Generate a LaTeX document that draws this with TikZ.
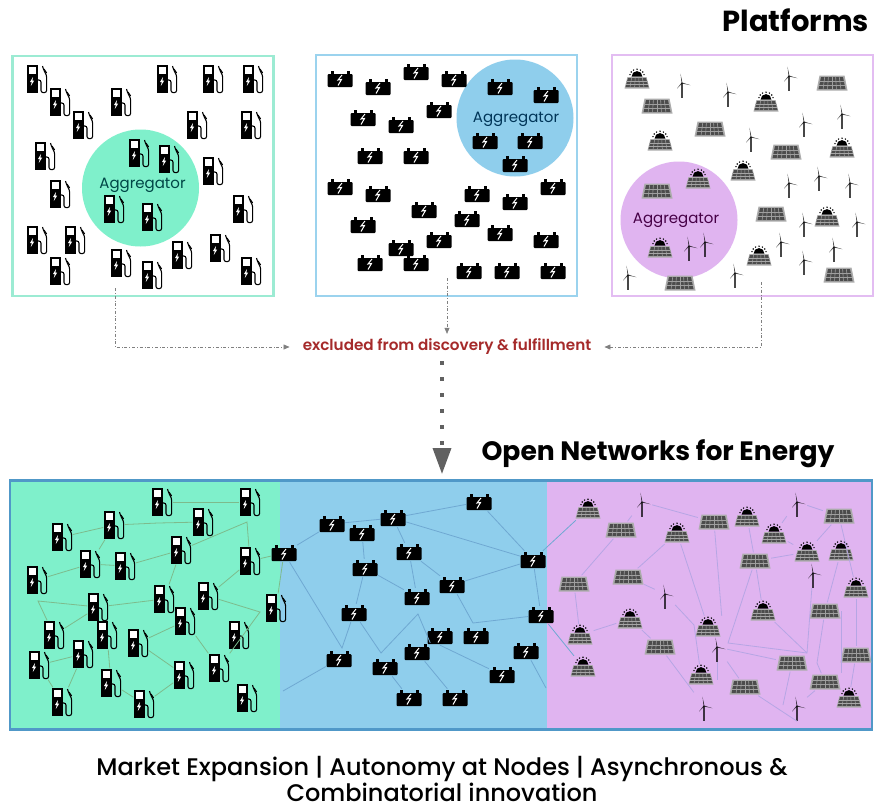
\documentclass[tikz,border=0pt]{standalone}
\usepackage{fontspec}
\usepackage{xcolor}
\setmainfont{Poppins}
\newfontfamily\mediumfont{Poppins Medium}
\newfontfamily\semifont{Poppins SemiBold}
\usetikzlibrary{arrows.meta}
\definecolor{mint}{HTML}{7FF0CB}
\definecolor{sky}{HTML}{8FCEEC}
\definecolor{lilac}{HTML}{E0B4F0}
\definecolor{mintline}{HTML}{9CEBD3}
\definecolor{skyline}{HTML}{9BD3EE}
\definecolor{lilacline}{HTML}{E3BDF2}
\definecolor{netline}{HTML}{5098C8}
\definecolor{redtext}{HTML}{A52A2A}
\definecolor{pumpwire}{HTML}{7DBB8C}
\definecolor{batterywire}{HTML}{6FA8D2}
\definecolor{solwire}{HTML}{B6A6E4}
\tikzset{
    pump/.pic={
        \fill[black] (-10,-14) rectangle (1,14);
        \fill[white] (-8.3,-12.4) rectangle (-.7,-5);
        \fill[white] (-4,-2) -- (-7,3) -- (-5.2,3) -- (-6.2,7) -- (-2.8,1.6) -- (-4.6,1.6) -- cycle;
        \draw[black, line width=1.1pt, rounded corners=2.2pt] (1,1) -- (4,1) -- (4,13.6) -- (9.6,13.6) -- (9.6,-4) -- (7,-8) -- (5.5,-13);
        \draw[black, line width=1.1pt] (7,-10) -- (9.6,-6);
    },
    battery/.pic={
        \fill[black, rounded corners=1pt] (-12.5,-5) rectangle (12.5,8);
        \fill[black] (-9.5,-8) rectangle (-6.5,-4);
        \fill[black] (6.5,-8) rectangle (9.5,-4);
        \draw[white, line width=1pt] (2,-4) -- (-2,1) -- (1.5,.5) -- (-2,6.5);
    },
    panelcells/.pic={
        \fill[black!70] (-9,-1) -- (9,-1) -- (11.5,8) -- (-11.5,8) -- cycle;
        \foreach \u in {-.6,-.2,.2,.6}
            \draw[gray!70, line width=.5pt] (\u*9,-1) -- (\u*11.5,8);
        \foreach \v in {2,5}
            \draw[gray!70, line width=.5pt] (-11,\v) -- (11,\v);
    },
    panel/.pic={
        \fill[gray!65] (-12.5,-7.5) -- (12.5,-7.5) -- (15.5,7.5) -- (-15.5,7.5) -- cycle;
        \fill[black!70] (-11,-6) -- (11,-6) -- (13.5,6) -- (-13.5,6) -- cycle;
        \foreach \u in {-.66,-.33,0,.33,.66}
            \draw[gray!75, line width=.6pt] (\u*11,-6) -- (\u*13.5,6);
        \foreach \v in {-2,2}
            \draw[gray!75, line width=.6pt] (-13,\v) -- (13,\v);
    },
    sunpanel/.pic={
        \fill[black] (-5.4,-2.5) arc (180:360:5.4) -- cycle;
        \foreach \a in {195,218,242,270,298,322,345}
            \fill[black] (0,-2.5) ++(\a:7.3) circle (.8);
        \fill[gray!65] (-9.5,-2) -- (9.5,-2) -- (12.5,9.5) -- (-12.5,9.5) -- cycle;
        \pic at (0,0) {panelcells};
    },
    turbine/.pic={
        \begin{scope}[black, opacity=.72]
        \fill (-.5,0) -- (-1.5,-9.5) -- (.5,0) -- cycle;
        \fill (0,-.5) -- (8.5,2.2) -- (0,.5) -- cycle;
        \fill (-.4,-.4) -- (-5,5.5) -- (.4,.4) -- cycle;
        \fill (-.7,0) rectangle (.7,15);
        \end{scope}
    },
}
\begin{document}
\begin{tikzpicture}[x=1pt, y=-1pt,
    frame/.style={draw, line width=2.5pt, fill=white},
    blob/.style={circle, minimum size=117pt, inner sep=0pt},
    aggregator/.style={font=\fontsize{15}{16}\selectfont},
    heading/.style={font=\fontsize{26.6}{28}\selectfont\bfseries, text=black},
    pumpslot/.style={minimum width=21pt, minimum height=29pt, inner sep=0pt},
    batteryslot/.style={minimum width=26pt, minimum height=18pt, inner sep=0pt},
    panelslot/.style={minimum width=32pt, minimum height=17pt, inner sep=0pt},
    sunslot/.style={minimum width=27pt, minimum height=22pt, inner sep=0pt},
    turbineslot/.style={minimum width=20pt, minimum height=30pt, inner sep=0pt},
    pumplink/.style={draw=pumpwire, line width=.8pt},
    batterylink/.style={draw=batterywire, line width=.8pt},
    sollink/.style={draw=solwire, line width=.8pt},
    excluded/.style={draw=gray, line width=.6pt, dash dot, -{Triangle[length=6pt, width=5pt]}},
]
    \useasboundingbox (0,0) rectangle (876,806);

    \node[heading, anchor=east, font=\fontsize{29}{30}\selectfont\bfseries] (platforms) at (872.5,20) {Platforms};
    \node[heading, anchor=west] (open title) at (478,454) {Open Networks for Energy};

    \node[frame, draw=mintline, minimum width=261pt, minimum height=240pt, inner sep=0pt] (frame pump) at (143,176) {};
    \node[frame, draw=skyline, minimum width=261pt, minimum height=241pt, inner sep=0pt] (frame battery) at (446.5,175.5) {};
    \node[frame, draw=lilacline, minimum width=261pt, minimum height=241pt, inner sep=0pt] (frame sol) at (742.5,175.5) {};

    \node[blob, fill=mint] (blob pump) at (140.5,188) {};
    \node[blob, fill=sky] (blob battery) at (515,118) {};
    \node[blob, fill=lilac] (blob sol) at (679,220) {};
    \node[aggregator, text=teal!55!black] (label pump) at (142.5,185) {Aggregator};
    \node[aggregator, text=blue!25!teal!55!black] (label battery) at (516,119) {Aggregator};
    \node[aggregator, text=violet!55!black] (label sol) at (676,220) {Aggregator};

    \foreach \x/\y in {37/79, 60/102, 83/125, 121/102, 167/79, 213/79, 253/79, 197/125, 251/125, 45/156,
        139/153, 169/159, 213/171, 60/194, 114/209, 152/217, 243/209, 37/240, 75/240, 60/271, 121/263,
        152/275, 182/255, 220/248, 251/271}
        \pic at (\x,\y) {pump};
    \foreach \x/\y in {340/79, 378/87, 416/72, 454/79, 500/87, 546/95, 363/118, 401/125, 439/110, 370/156,
        416/156, 485/141, 530/141, 515/164, 340/187, 378/194, 553/187, 477/194, 515/202, 424/210, 467/219,
        363/225, 500/233, 439/240, 546/240, 401/248, 370/263, 416/263, 469/271, 507/271, 553/271}
        \pic at (\x,\y) {battery};
    \foreach \x/\y in {637/79, 660/141, 766/102, 743/171, 842/148, 698/179, 660/248, 827/217, 759/256}
        \pic at (\x,\y) {sunpanel};
    \foreach \x/\y in {657/106, 832/83, 710/129, 786/152, 657/191, 771/214, 680/283, 839/275}
        \pic at (\x,\y) {panel};
    \foreach \x/\y in {682/83, 728/92, 789/76, 804/122, 842/114, 751/137, 789/183, 819/176, 850/183, 804/222,
        857/222, 781/242, 834/247, 804/260, 735/273, 628/275, 689/246, 705/242}
        \pic at (\x,\y) {turbine};

    \node[font=\semifont\fontsize{15.2}{16}\selectfont, text=redtext, inner xsep=13pt, inner ysep=5pt] (excl) at (447,347) {\raisebox{-2pt}{excluded from discovery \& fulfillment}};
    \coordinate (drop pump) at (115,288);
    \coordinate (drop battery) at (447,278);
    \coordinate (drop sol) at (761,282);
    \coordinate (dots start) at (442,361);
    \coordinate (dots tip) at (442,474);
    \draw[excluded] (drop pump) |- (excl.west);
    \draw[excluded] (drop battery) -- (excl.north -| drop battery);
    \draw[excluded] (drop sol) |- (excl.east);
    \draw[black!62, line width=3.5pt, dash pattern=on 3.5pt off 12.5pt, -{Triangle[length=26pt, width=18pt]}] (dots start) -- (dots tip);

    \fill[mint] (10,480) rectangle (280,730);
    \fill[sky] (280,480) rectangle (547,730);
    \fill[lilac] (547,480) rectangle (872,730);
    \node[draw=netline, line width=2.5pt, minimum width=862pt, minimum height=249pt, inner sep=0pt] (network) at (441,605) {};

    \foreach \n/\x/\y in {pa/162/502, pb/250/502, pc/203/522, pd/114/525, pe/62/537, pf/181/550, pg/250/561,
        ph/90/564, pi/125/566, pj/37/580, pk/164/599, pl/208/596, pm/98/607, pn/276/608, po/185/621,
        pp/54/635, pq/107/635, pr/138/643, ps/239/635, pt/83/654, pu/39/665, pv/219/668, pw/184/675,
        px/111/683, py/247/698, pz/62/702, paa/144/704}
    {
        \node[pumpslot] (\n) at (\x,\y) {};
        \pic at (\n) {pump};
    }
    \foreach \n/\x/\y in {ba/284/553, bb/332/524, bc/393/518, bd/479/502, be/362/533, bf/409/552, bg/365/568,
        bh/533/560, bi/452/585, bj/417/597, bk/354/613, bl/541/615, bm/440/636, bn/476/636, bo/417/652,
        bp/526/651, bq/339/659, br/385/667, bs/502/675, bt/409/698, bu/455/698}
    {
        \node[batteryslot] (\n) at (\x,\y) {};
        \pic at (\n) {battery};
    }
    \foreach \n/\x/\y in {sa/588/509, sb/747/517, sc/774/534, sd/677/533, se/807/552, sf/841/551, sg/856/588,
        sh/763/611, si/630/619, sj/580/635, sk/708/627, sl/583/667, sm/701/675, sn/849/698}
    {
        \node[sunslot] (\n) at (\x,\y) {};
        \pic at (\n) {sunpanel};
    }
    \foreach \n/\x/\y in {va/714/522, vb/839/516, vc/621/530, vd/755/561, ve/628/577, vf/574/584, vg/825/611,
        vh/660/647, vi/856/655, vj/792/663, vk/825/682, vl/745/687}
    {
        \node[panelslot] (\n) at (\x,\y) {};
        \pic at (\n) {panel};
    }
    \foreach \n/\x/\y in {ta/642/502, tb/797/502, tc/813/573, td/665/594, te/717/647, tf/704/706, tg/797/706}
    {
        \node[turbineslot] (\n) at (\x,\y) {};
        \pic at (\n) {turbine};
    }

    \foreach \n/\x/\y in {bend dc/158/523, bend fg/247/522, bend lv/260/612, bend pm/38/601, bend ak/342/648,
        bend kx/381/653, bend ky/418/614, bend il/473/623, bend td/694/625, bend vda/728/643, bend vdb/807/653,
        bend vg/817/663, end bq/283/691, end bp/546/688, end te/717/680, end vj/783/705}
        \coordinate (\n) at (\x,\y);

    \foreach \a/\b in {pa/pb, pe/pd, ph/pd, ph/pi, pj/ph, pi/pf, pk/pf, pm/pk, pl/pg, po/pv, pr/po, pr/pw,
        pp/pm, pq/px, pu/pt, pz/pt, pu/pz, px/paa, paa/pw, pg/ba, pn/ba}
        \draw[pumplink] (\a) -- (\b);
    \draw[pumplink] (pd) -- (bend dc) -- (pc);
    \draw[pumplink] (pf) -- (bend fg) -- (pg);
    \draw[pumplink] (pl) -- (bend lv) -- (pv);
    \draw[pumplink] (pp) -- (bend pm) -- (pm);

    \foreach \a/\b in {ba/bb, bb/bc, bc/bd, bc/bf, bc/bh, bd/bh, be/bg, bf/bi, bf/bj, bg/bk, bg/bj, bi/bh, bh/bl,
        bo/bu, br/bt, bm.south/bs, bq/end bq, bp/end bp, bh/sa, bl/sl}
        \draw[batterylink] (\a) -- (\b);
    \draw[batterylink] (ba) -- (bend ak) -- (bk);
    \draw[batterylink] (bk) -- (bend kx) -- (bend ky) -- (bo.north east);
    \draw[batterylink] (bi) -- (bend il) -- (bl);

    \foreach \a/\b in {ta/va, ta/vc, vc/vf, ve/sd, sd/sk, va/sk.north east, vf/sj, sj/si, si/vh, ve/td, vh/tf, te/end te,
        te/vl, te/vj, vd/sh, vd/se, sb/vd, sc/se, sc/tb, tb/vb, vb/se, vb/sg, sf/vg, sg/vi, vg.east/vk.north east,
        vi/sn, vk/tg, vl/tg.south, vj/end vj}
        \draw[sollink] (\a) -- (\b);
    \draw[sollink] (td) -- (bend td) -- (sm);
    \draw[sollink] (vd) -- (bend vda) -- (bend vdb) -- (tc);
    \draw[sollink] (sh) -- (bend vdb);
    \draw[sollink] (vg) -- (bend vg) -- (vk);

    \node[font=\mediumfont\fontsize{24}{26}\selectfont, align=center, text=black, inner sep=0pt] (benefits) at (442,779) {Market Expansion | Autonomy at Nodes | Asynchronous \&\\Combinatorial innovation};
\end{tikzpicture}
\end{document}
